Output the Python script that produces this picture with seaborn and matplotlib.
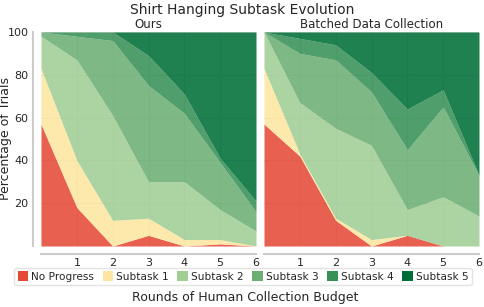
import matplotlib
matplotlib.use("Agg")
import matplotlib.pyplot as plt
import seaborn as sns
import numpy as np
from matplotlib.patches import Patch

rounds = [0, 1, 2, 3, 4, 5, 6]
labels = ["No Progress", "Subtask 1", "Subtask 2", "Subtask 3", "Subtask 4", "Subtask 5"]

ours_no_progress = [57, 18, 0, 5, 0, 1, 0]
ours_subtask1 = [26, 22, 12, 8, 3, 2, 0]
ours_subtask2 = [15, 47, 49, 17, 27, 14, 7]
ours_subtask3 = [2, 11, 35, 45, 32, 22, 9]
ours_subtask4 = [0, 2, 4, 14, 9, 2, 5]
ours_subtask5 = [0, 0, 0, 11, 29, 59, 79]

batch_no_progress = [57, 42, 12, 0, 5, 0, 0]
batch_subtask1 = [26, 1, 1, 3, 0, 0, 0]
batch_subtask2 = [17, 24, 42, 44, 12, 23, 14]
batch_subtask3 = [0, 23, 32, 25, 28, 42, 19]
batch_subtask4 = [0, 7, 7, 9, 19, 8, 0]
batch_subtask5 = [0, 3, 6, 19, 36, 27, 67]

colors = ["#e54a36", "#fde6a1", "#a1ce95", "#6baf74", "#369156", "#006e38"]

sns.set_theme(style="whitegrid")
plt.rcParams['font.family'] = ['DejaVu Sans']

fig = plt.figure(figsize=(4.84, 3.07), dpi=100)
ax1 = fig.add_axes([41/484, 1-246/307, 215/484, 214/307])
ax2 = fig.add_axes([264/484, 1-246/307, 215/484, 214/307])

panels = [
    (ax1, "Ours", [ours_no_progress, ours_subtask1, ours_subtask2, ours_subtask3, ours_subtask4, ours_subtask5]),
    (ax2, "Batched Data Collection", [batch_no_progress, batch_subtask1, batch_subtask2, batch_subtask3, batch_subtask4, batch_subtask5]),
]

for ax, title, series in panels:
    ax.stackplot(rounds, *series, colors=colors, alpha=0.88, linewidth=0)
    ax.set_xlim(0, 6)
    ax.set_ylim(0, 100)
    ax.set_xticks([1, 2, 3, 4, 5, 6])
    ax.set_yticks([20, 40, 60, 80, 100])
    ax.set_title(title, fontsize=8.5, pad=3)
    ax.tick_params(axis='both', labelsize=8, length=0, pad=3)
    ax.grid(True, color="#dddddd", linewidth=0.8)
    ax.set_axisbelow(True)

sns.despine(ax=ax1, offset=6)
sns.despine(ax=ax2, offset=6, left=True)
for ax in (ax1, ax2):
    for s in ("left", "bottom"):
        ax.spines[s].set_color("#cccccc")
        ax.spines[s].set_linewidth(1.5)
ax2.tick_params(axis='y', labelleft=False)

ax1.set_ylabel("Percentage of Trials", fontsize=9)
ax1.yaxis.set_label_coords(-0.133, 0.5)

fig.suptitle("Shirt Hanging Subtask Evolution", fontsize=10, y=0.99)

handles = [Patch(facecolor=c, edgecolor='none', label=l) for c, l in zip(colors, labels)]
fig.legend(handles=handles, loc="center", bbox_to_anchor=(243/484, 1-276.5/307), ncol=6,
           fontsize=7.6, frameon=True, handlelength=1.0, handleheight=1.0, handletextpad=0.3,
           columnspacing=0.8, borderpad=0.3, edgecolor="#dddddd", fancybox=True)
fig.text(245/484, 1-298/307, "Rounds of Human Collection Budget", ha="center", va="center", fontsize=9)

fig.savefig("out.png", dpi=100)
